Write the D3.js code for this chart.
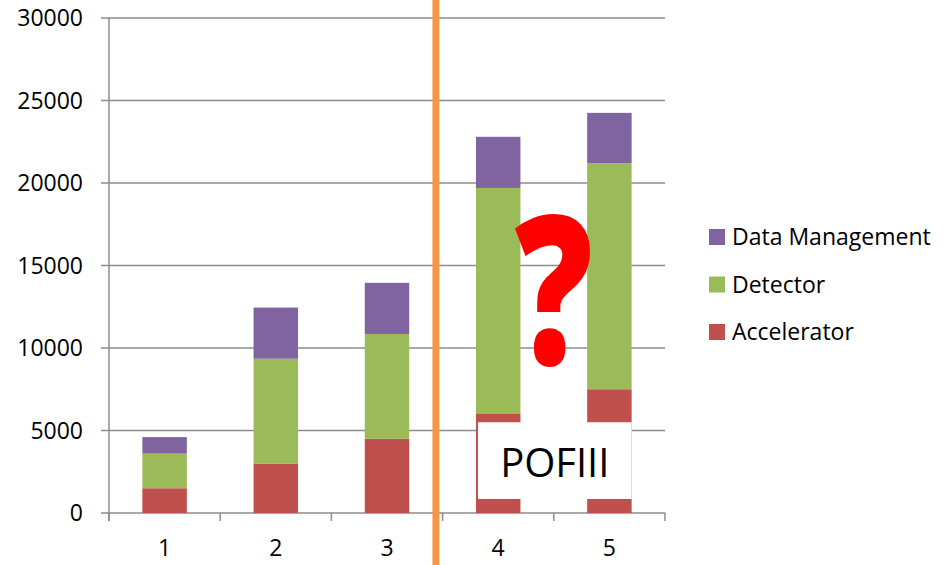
<!DOCTYPE html>
<html>
<head>
<meta charset="utf-8">
<script src="https://cdn.jsdelivr.net/npm/d3@7"></script>
<style>
  body { margin: 0; background: #fff; }
  svg { display: block; font-family: "Open Sans", "Noto Sans", sans-serif; }
  .grid line { stroke: #8c8c8c; stroke-width: 1.5; }
</style>
</head>
<body>
<svg id="chart"></svg>
<script>
// data
var categories = ["1", "2", "3", "4", "5"];
var accelerator = [1500, 3000, 4500, 6000, 7500];
var detector = [2100, 6350, 6350, 13700, 13700];
var dataManagement = [1000, 3100, 3100, 3100, 3050];
var yTicks = [0, 5000, 10000, 15000, 20000, 25000, 30000];

var series = [
  {name: "Accelerator", values: accelerator, color: "#C0504D"},
  {name: "Detector", values: detector, color: "#9BBB59"},
  {name: "Data Management", values: dataManagement, color: "#8064A2"}
];

var config = {w: 951, h: 565, left: 109, right: 665, top: 18, bottom: 513, fs: 23};

var svg = d3.select("#chart").attr("width", config.w).attr("height", config.h);

var x = d3.scaleBand()
  .domain(categories)
  .range([config.left, config.right])
  .paddingInner(0.6)
  .paddingOuter(0.3);

var y = d3.scaleLinear()
  .domain([0, 30000])
  .range([config.bottom, config.top]);

// stacked table
var rows = categories.map(function(c, i) {
  var r = {cat: c};
  series.forEach(function(s) { r[s.name] = s.values[i]; });
  return r;
});
var stack = d3.stack().keys(series.map(function(s) { return s.name; }));
var layers = stack(rows);

// gridlines + y axis labels
var grid = svg.append("g").attr("class", "grid");
grid.selectAll("line")
  .data(yTicks)
  .enter().append("line")
  .attr("x1", config.left - 8)
  .attr("x2", config.right)
  .attr("y1", function(d) { return y(d); })
  .attr("y2", function(d) { return y(d); });

svg.append("g").selectAll("text")
  .data(yTicks)
  .enter().append("text")
  .attr("x", 83)
  .attr("y", function(d) { return y(d); })
  .attr("dy", "0.35em")
  .attr("text-anchor", "end")
  .attr("font-size", config.fs)
  .attr("fill", "#000")
  .text(function(d) { return d; });

// bars
svg.append("g").selectAll("g")
  .data(layers)
  .enter().append("g")
  .attr("fill", function(d, i) { return series[i].color; })
  .selectAll("rect")
  .data(function(d) { return d; })
  .enter().append("rect")
  .attr("x", function(d) { return x(d.data.cat); })
  .attr("width", x.bandwidth())
  .attr("y", function(d) { return y(d[1]); })
  .attr("height", function(d) { return y(d[0]) - y(d[1]); });

// x axis: ticks at category boundaries
var bounds = categories.map(function(c) { return x(c) - x.step() * x.paddingInner() / 2; });
bounds.push(config.right);
var axis = svg.append("g").attr("class", "grid");
axis.append("line")
  .attr("x1", config.left).attr("x2", config.left)
  .attr("y1", config.top).attr("y2", config.bottom + 8);
axis.selectAll("line.tick")
  .data(bounds)
  .enter().append("line")
  .attr("class", "tick")
  .attr("x1", function(d) { return d; })
  .attr("x2", function(d) { return d; })
  .attr("y1", config.bottom)
  .attr("y2", config.bottom + 8);

svg.append("g").selectAll("text")
  .data(categories)
  .enter().append("text")
  .attr("x", function(d) { return x(d) + x.bandwidth() / 2; })
  .attr("y", 556)
  .attr("text-anchor", "middle")
  .attr("font-size", config.fs)
  .text(function(d) { return d; });

// POFIII label box over bars 4 and 5
var boxX = x("4") + 2;
var boxR = x("5") + x.bandwidth();
svg.append("rect")
  .attr("x", boxX)
  .attr("y", y(5500))
  .attr("width", boxR - boxX)
  .attr("height", y(850) - y(5500))
  .attr("fill", "#fff");
svg.append("text")
  .attr("x", (boxX + boxR) / 2)
  .attr("y", 477)
  .attr("text-anchor", "middle")
  .attr("font-size", 40)
  .text("POFIII");

// big red question mark, squeezed a bit
var qx = (x("4") + x.bandwidth() + x("5")) / 2;
svg.append("text")
  .attr("transform", "translate(" + qx + ",364) scale(0.77,1.04)")
  .attr("text-anchor", "middle")
  .attr("font-size", 200)
  .attr("font-weight", 800)
  .attr("fill", "#FF0000")
  .text("?");

// orange divider between 3 and 4
var endOf3 = x("3") + x.bandwidth();
var divX = endOf3 + (x("4") - endOf3) * 0.4;
svg.append("line")
  .attr("x1", divX).attr("x2", divX)
  .attr("y1", 0).attr("y2", config.h)
  .attr("stroke", "#F79646")
  .attr("stroke-width", 7);

// legend, top entry = last series
var legend = svg.append("g").selectAll("g")
  .data(series.slice().reverse())
  .enter().append("g")
  .attr("transform", function(d, i) { return "translate(709," + (237 + i * 47.5) + ")"; });
legend.append("rect")
  .attr("y", -8)
  .attr("width", 16)
  .attr("height", 16)
  .attr("fill", function(d) { return d.color; });
legend.append("text")
  .attr("x", 23)
  .attr("dy", "0.35em")
  .attr("font-size", config.fs)
  .text(function(d) { return d.name; });
</script>
</body>
</html>
